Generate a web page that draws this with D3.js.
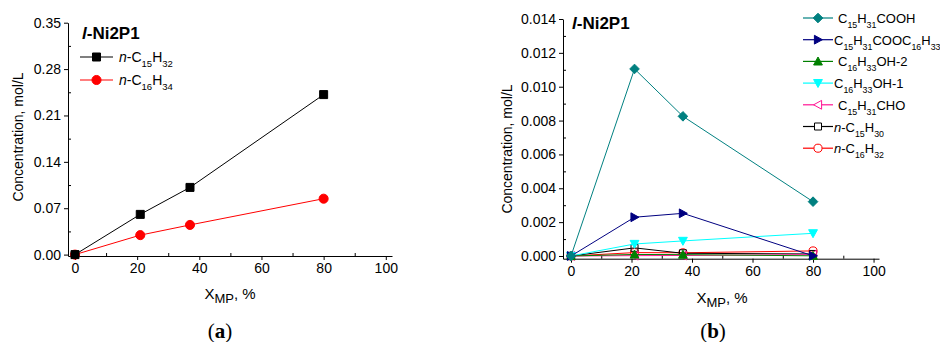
<!DOCTYPE html>
<html>
<head>
<meta charset="utf-8">
<script src="https://cdn.jsdelivr.net/npm/d3@7"></script>
<style>
  body { margin: 0; background: #fff; }
  text { font-family: "Liberation Sans", Arial, sans-serif; fill: #000; }
</style>
</head>
<body>
<script>
// chart data
var xmp = [0, 21, 37, 80];

// panel (a)
var aNames = ["n-C_15H_32", "n-C_16H_34"];
var aC15H32 = [0, 0.0607, 0.1014, 0.2415];
var aC16H34 = [0, 0.0294, 0.0448, 0.0844];
var aYTicks = [0, 0.07, 0.14, 0.21, 0.28, 0.35];

// panel (b)
var bNames = ["C_15H_31COOH", "C_15H_31COOC_16H_33", "C_16H_33OH-2", "C_16H_33OH-1",
  "C_15H_31CHO", "n-C_15H_30", "n-C_16H_32"];
var bAcid = [0, 0.01105, 0.00825, 0.00321];
var bEster = [0, 0.00229, 0.00252, 0.00001];
var bOl2 = [0, 0.00009, 0.00008, 0.00001];
var bOl1 = [0, 0.00071, 0.00089, 0.00134];
var bAld = [0, 0.00002, 0.00003, 0.00008];
var bC15H30 = [0, 0.00048, 0.00016, 0.00012];
var bC16H32 = [0, 0.0002, 0.00019, 0.0003];
var bYTicks = [0, 0.002, 0.004, 0.006, 0.008, 0.010, 0.012, 0.014];

var xTicks = [0, 20, 40, 60, 80, 100];

var svg = d3.select("body").append("svg")
  .attr("width", 940)
  .attr("height", 342);

// marker shapes
function markerPath(type, s) {
  var h = s / 2;
  if (type == "square") return `M${-h},${-h}H${h}V${h}H${-h}Z`;
  if (type == "diamond") return `M0,${-h * 1.2}L${h * 1.2},0L0,${h * 1.2}L${-h * 1.2},0Z`;
  if (type == "up") return `M0,${-h * 1.1}L${h * 1.1},${h * 0.9}L${-h * 1.1},${h * 0.9}Z`;
  if (type == "down") return `M0,${h * 1.1}L${h * 1.1},${-h * 0.9}L${-h * 1.1},${-h * 0.9}Z`;
  if (type == "right") return `M${h * 1.1},0L${-h * 0.9},${h * 1.1}L${-h * 0.9},${-h * 1.1}Z`;
  if (type == "left") return `M${-h * 1.1},0L${h * 0.9},${h * 1.1}L${h * 0.9},${-h * 1.1}Z`;
  return d3.symbol(d3.symbolCircle, s * s * 0.8)();
}

// write "n-C_15H_32" style labels with subscripts and italic n
function richText(sel, str, size) {
  var parts = str.match(/_\d+|[^_]+/g);
  var sub = false;
  parts.forEach(function(p) {
    if (p[0] == "_") {
      sel.append("tspan").attr("font-size", size * 0.68).attr("dy", 5).text(p.slice(1));
      sub = true;
    } else {
      var t = p;
      if (t.indexOf("n-") == 0) {
        sel.append("tspan").attr("font-style", "italic").attr("dy", sub ? -5 : 0).text("n");
        sub = false;
        t = t.slice(1);
      }
      sel.append("tspan").attr("font-size", size).attr("dy", sub ? -5 : 0).text(t);
      sub = false;
    }
  });
}

function drawPanel(cfg) {
  var x = d3.scaleLinear().domain(cfg.xDomain).range(cfg.xRange);
  var y = d3.scaleLinear().domain(cfg.yDomain).range(cfg.yRange);
  var g = svg.append("g");

  // x axis with minor ticks
  var xAxis = g.append("g").attr("transform", `translate(0,${cfg.yRange[0]})`)
    .call(d3.axisBottom(x).tickValues(xTicks).tickSize(4).tickSizeOuter(0).tickPadding(3));
  xAxis.selectAll("text").attr("font-size", 14);
  g.append("g").attr("transform", `translate(0,${cfg.yRange[0]})`)
    .call(d3.axisTop(x).tickValues([10, 30, 50, 70, 90]).tickSize(3).tickSizeOuter(0).tickFormat(""))
    .select(".domain").remove();

  // y axis with minor ticks
  var yAxis = g.append("g").attr("transform", `translate(${cfg.xRange[0]},0)`)
    .call(d3.axisLeft(y).tickValues(cfg.yTicks).tickSize(4).tickSizeOuter(0)
      .tickPadding(3).tickFormat(d3.format(cfg.yFormat)));
  yAxis.selectAll("text").attr("font-size", 14);
  var minors = cfg.yTicks.slice(1).map(function(v, i) { return (v + cfg.yTicks[i]) / 2; });
  g.append("g").attr("transform", `translate(${cfg.xRange[0]},0)`)
    .call(d3.axisRight(y).tickValues(minors).tickSize(3).tickSizeOuter(0).tickFormat(""))
    .select(".domain").remove();
  g.selectAll(".domain").attr("stroke", "#000");
  g.selectAll(".tick line").attr("stroke", "#000");

  // axis titles
  g.append("text")
    .attr("transform", `translate(${cfg.yTitleX},${cfg.yTitleY}) rotate(-90)`)
    .attr("text-anchor", "middle").attr("font-size", 14)
    .text("Concentration, mol/L");
  var xt = g.append("text").attr("x", cfg.xTitleX).attr("y", cfg.xTitleY)
    .attr("text-anchor", "middle").attr("font-size", 15);
  xt.append("tspan").text("X");
  xt.append("tspan").attr("font-size", 13).attr("dy", 4).text("MP");
  xt.append("tspan").attr("dy", -4).text(", %");

  // panel title
  var tt = g.append("text").attr("x", cfg.titleX).attr("y", cfg.titleY)
    .attr("font-size", 17).attr("font-weight", "bold");
  tt.append("tspan").attr("font-style", "italic").text("l");
  tt.append("tspan").text("-Ni2P1");

  // series
  var line = d3.line().x(function(d) { return x(d[0]); }).y(function(d) { return y(d[1]); });
  cfg.series.slice().reverse().forEach(function(s) {
    var pts = xmp.map(function(v, i) { return [v, s.values[i]]; });
    g.append("path").attr("d", line(pts))
      .attr("fill", "none").attr("stroke", s.color).attr("stroke-width", 1);
    g.selectAll(null).data(pts).enter().append("path")
      .attr("transform", function(d) { return `translate(${x(d[0])},${y(d[1])})`; })
      .attr("d", markerPath(s.marker, s.size))
      .attr("fill", s.open ? "#fff" : s.color)
      .attr("fill-opacity", s.open ? 0 : 1)
      .attr("stroke", s.color).attr("stroke-width", 1);
  });

  // legend
  cfg.series.forEach(function(s, i) {
    var ly = cfg.legY + i * cfg.legStep;
    var lg = g.append("g").attr("transform", `translate(${cfg.legX},${ly})`);
    lg.append("line").attr("x1", 0).attr("x2", cfg.legLen).attr("y1", 0).attr("y2", 0)
      .attr("stroke", s.color).attr("stroke-width", 1.2);
    lg.append("path").attr("transform", `translate(${cfg.legLen / 2},0)`)
      .attr("d", markerPath(s.marker, s.size))
      .attr("fill", s.open ? "#fff" : s.color)
      .attr("stroke", s.color).attr("stroke-width", 1);
    var txt = lg.append("text").attr("x", cfg.legLen + (s.gap || 4)).attr("y", 5)
      .attr("font-size", cfg.legFont);
    richText(txt, s.name, cfg.legFont);
  });
}

drawPanel({
  xDomain: [-2.25, 102], xRange: [68, 392],
  yDomain: [-0.0021, 0.35], yRange: [256, 22.7],
  yTicks: aYTicks, yFormat: ".2f",
  yTitleX: 23, yTitleY: 137, xTitleX: 230, xTitleY: 299,
  titleX: 82, titleY: 39,
  legX: 80, legY: 57, legStep: 23, legLen: 33, legFont: 14,
  series: [
    { name: aNames[0], values: aC15H32, color: "#000", marker: "square", size: 8, gap: 6 },
    { name: aNames[1], values: aC16H34, color: "#ff0000", marker: "circle", size: 9, gap: 6 }
  ]
});

drawPanel({
  xDomain: [-2.64, 101.8], xRange: [563, 879],
  yDomain: [-0.00016, 0.014], yRange: [258.7, 19],
  yTicks: bYTicks, yFormat: ".3f",
  yTitleX: 512, yTitleY: 149, xTitleX: 722, xTitleY: 303,
  titleX: 572, titleY: 29,
  legX: 803, legY: 18, legStep: 21.7, legLen: 30, legFont: 13,
  series: [
    { name: bNames[0], values: bAcid, color: "#008080", marker: "diamond", size: 8, gap: 5 },
    { name: bNames[1], values: bEster, color: "#000080", marker: "right", size: 8, gap: 1 },
    { name: bNames[2], values: bOl2, color: "#008000", marker: "up", size: 8, gap: 5 },
    { name: bNames[3], values: bOl1, color: "#00ffff", marker: "down", size: 8, gap: 1 },
    { name: bNames[4], values: bAld, color: "#ff1493", marker: "left", size: 8, open: true, gap: 5 },
    { name: bNames[5], values: bC15H30, color: "#000", marker: "square", size: 7, open: true, gap: 1 },
    { name: bNames[6], values: bC16H32, color: "#ff0000", marker: "circle", size: 8, open: true, gap: 1 }
  ]
});

// panel captions
[["a", 220], ["b", 713]].forEach(function(c) {
  var t = svg.append("text").attr("x", c[1]).attr("y", 338).attr("text-anchor", "middle")
    .style("font-family", "'Liberation Serif', 'DejaVu Serif', serif").attr("font-size", 21);
  t.append("tspan").text("(");
  t.append("tspan").attr("font-weight", "bold").text(c[0]);
  t.append("tspan").text(")");
});
</script>
</body>
</html>
